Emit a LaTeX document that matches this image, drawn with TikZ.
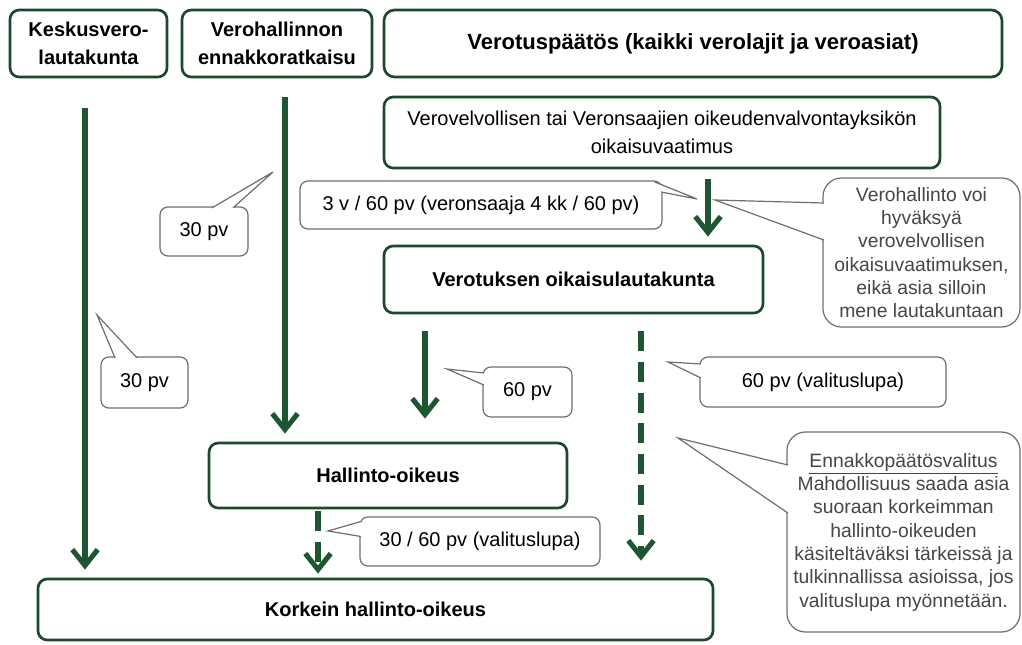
\documentclass[tikz,border=0pt]{standalone}
\usepackage{fontspec}
\setmainfont{Liberation Sans}
\usetikzlibrary{arrows.meta,calc}

\definecolor{boxgreen}{RGB}{28,72,44}
\definecolor{flowgreen}{RGB}{30,86,50}
\definecolor{notegray}{RGB}{110,110,110}
\definecolor{notetext}{RGB}{70,70,70}

\tikzset{
  stage/.style={draw=boxgreen, line width=2pt, rounded corners=7pt, fill=white,
    align=center, inner sep=2pt, font=\fontsize{15}{21}\selectfont\bfseries},
  flow/.style={draw=flowgreen, line width=3.8pt,
    -{Straight Barb[length=12pt,width=19pt]}},
  flowdash/.style={flow, dash pattern=on 15pt off 8pt},
  note/.style={draw=notegray, line width=0.9pt, rounded corners=6pt, fill=white,
    align=center, inner sep=2pt, font=\fontsize{15}{18}\selectfont},
  bignote/.style={note, rounded corners=14pt, text=notetext,
    font=\fontsize{14.5}{17.5}\selectfont},
  pointer/.style={draw=notegray, line width=0.9pt, fill=white, line join=miter},
}

\begin{document}
\begin{tikzpicture}[x=0.75pt, y=-0.75pt]
    \useasboundingbox (0,0) rectangle (1022,644);

    % boxes
    \node[stage, minimum width=117.8pt, minimum height=50.3pt] (keskus) at (88.5,43.5) {Keskusvero-\\lautakunta};
    \node[stage, minimum width=142.5pt, minimum height=50.3pt] (ennakko) at (277,43.5) {Verohallinnon\\ennakkoratkaisu};
    \node[stage, minimum width=463.5pt, minimum height=50.3pt, rounded corners=8pt,
      font=\fontsize{16.5}{21}\selectfont\bfseries] (paatos) at (693,43.5) {Verotuspäätös (kaikki verolajit ja veroasiat)};
    \node[stage, minimum width=417pt, minimum height=53.3pt, font=\fontsize{15}{21}\selectfont] (vaatimus) at (662,132.5)
      {Verovelvollisen tai Veronsaajien oikeudenvalvontayksikön\\oikaisuvaatimus};
    \node[stage, minimum width=284.3pt, minimum height=50.3pt] (lautakunta) at (573.5,279.5) {Verotuksen oikaisulautakunta};
    \node[stage, minimum width=268.5pt, minimum height=48.8pt] (hallinto) at (388,475.5) {Hallinto-oikeus};
    \node[stage, minimum width=506.3pt, minimum height=45.8pt] (kho) at (375.5,609.5) {Korkein hallinto-oikeus};

    % arrows
    \draw[flow] ($(keskus.south)+(-3.5,30)$) -- ($(keskus.south |- kho.north)+(-3.5,-8)$);
    \draw[flow] ($(ennakko.south)+(8,19)$) -- ($(ennakko.south |- hallinto.north)+(8,-8)$);
    \draw[flow] ($(vaatimus.south)+(46,10)$) -- ($(vaatimus.south |- lautakunta.north)+(46,-8)$);
    \draw[flow] ($(lautakunta.south)+(-148.5,17)$) -- ($(lautakunta.south |- hallinto.north)+(-148.5,-23)$);
    \draw[flowdash] ($(lautakunta.south)+(67.5,17)$) -- ($(lautakunta.south |- kho.north)+(67.5,-17)$);
    \draw[flowdash] ($(hallinto.south)+(-70,2)$) -- ($(hallinto.south |- kho.north)+(-70,-4)$);

    % callouts
    \node[note, minimum width=66pt, minimum height=36.8pt] (ennakkoaika) at (204,231.5) {30 pv};
    \coordinate (ennakkokarki) at (273,172);
    \filldraw[pointer] ($(ennakkoaika.north)+(8,1.5)$) -- (ennakkokarki) -- ($(ennakkoaika.north)+(29,1.5)$);

    \node[note, minimum width=271.5pt, minimum height=36pt] (oikaisuaika) at (481,205) {3 v / 60 pv (veronsaaja 4 kk / 60 pv)};
    \coordinate (oikaisukarki) at (697,199);
    \filldraw[pointer] ($(oikaisuaika.north east)+(-8,1.5)$) -- (oikaisukarki) -- ($(oikaisuaika.east)+(-1.5,-13)$);

    \node[bignote, minimum width=147.8pt, minimum height=111.8pt] (hyvaksynta) at (921.5,252.5)
      {Verohallinto voi\\hyväksyä\\verovelvollisen\\oikaisuvaatimuksen,\\eikä asia silloin\\mene lautakuntaan};
    \coordinate (hyvaksyntakarki) at (715,200);
    \filldraw[pointer] ($(hyvaksynta.west)+(1.5,-49.5)$) -- (hyvaksyntakarki) -- ($(hyvaksynta.west)+(1.5,-12.5)$);

    \node[note, minimum width=65.3pt, minimum height=38.3pt] (keskusaika) at (144.5,382.5) {30 pv};
    \coordinate (keskuskarki) at (97,315);
    \filldraw[pointer] ($(keskusaika.north)+(-29.5,1.5)$) -- (keskuskarki) -- ($(keskusaika.north)+(-7.5,1.5)$);

    \node[note, minimum width=66.8pt, minimum height=37.5pt] (lautakuntaaika) at (527.5,392) {60 pv};
    \coordinate (lautakuntakarki) at (447,369);
    \filldraw[pointer] ($(lautakuntaaika.west)+(1.5,-19)$) -- (lautakuntakarki) -- ($(lautakuntaaika.west)+(1.5,-7)$);

    \node[note, minimum width=184.5pt, minimum height=37.5pt] (lupaaika) at (823,382) {60 pv (valituslupa)};
    \coordinate (lupakarki) at (668,362);
    \filldraw[pointer] ($(lupaaika.west)+(1.5,-18)$) -- (lupakarki) -- ($(lupaaika.west)+(1.5,-4)$);

    \node[bignote, minimum width=174.8pt, minimum height=150pt] (ennakkovalitus) at (903.5,532)
      {\underline{Ennakkopäätösvalitus}\\Mahdollisuus saada asia\\suoraan korkeimman\\hallinto-oikeuden\\käsiteltäväksi tärkeissä ja\\tulkinnallissa asioissa, jos\\valituslupa myönnetään.};
    \coordinate (valituskarki) at (678,438);
    \filldraw[pointer] ($(ennakkovalitus.west)+(1.5,-67)$) -- (valituskarki) -- ($(ennakkovalitus.west)+(1.5,-19)$);

    \node[note, minimum width=180pt, minimum height=36.8pt] (hallintoaika) at (480,541.5) {30 / 60 pv (valituslupa)};
    \coordinate (hallintokarki) at (328,531);
    \filldraw[pointer] ($(hallintoaika.west)+(1.5,-20)$) -- (hallintokarki) -- ($(hallintoaika.west)+(1.5,-5)$);
\end{tikzpicture}
\end{document}
